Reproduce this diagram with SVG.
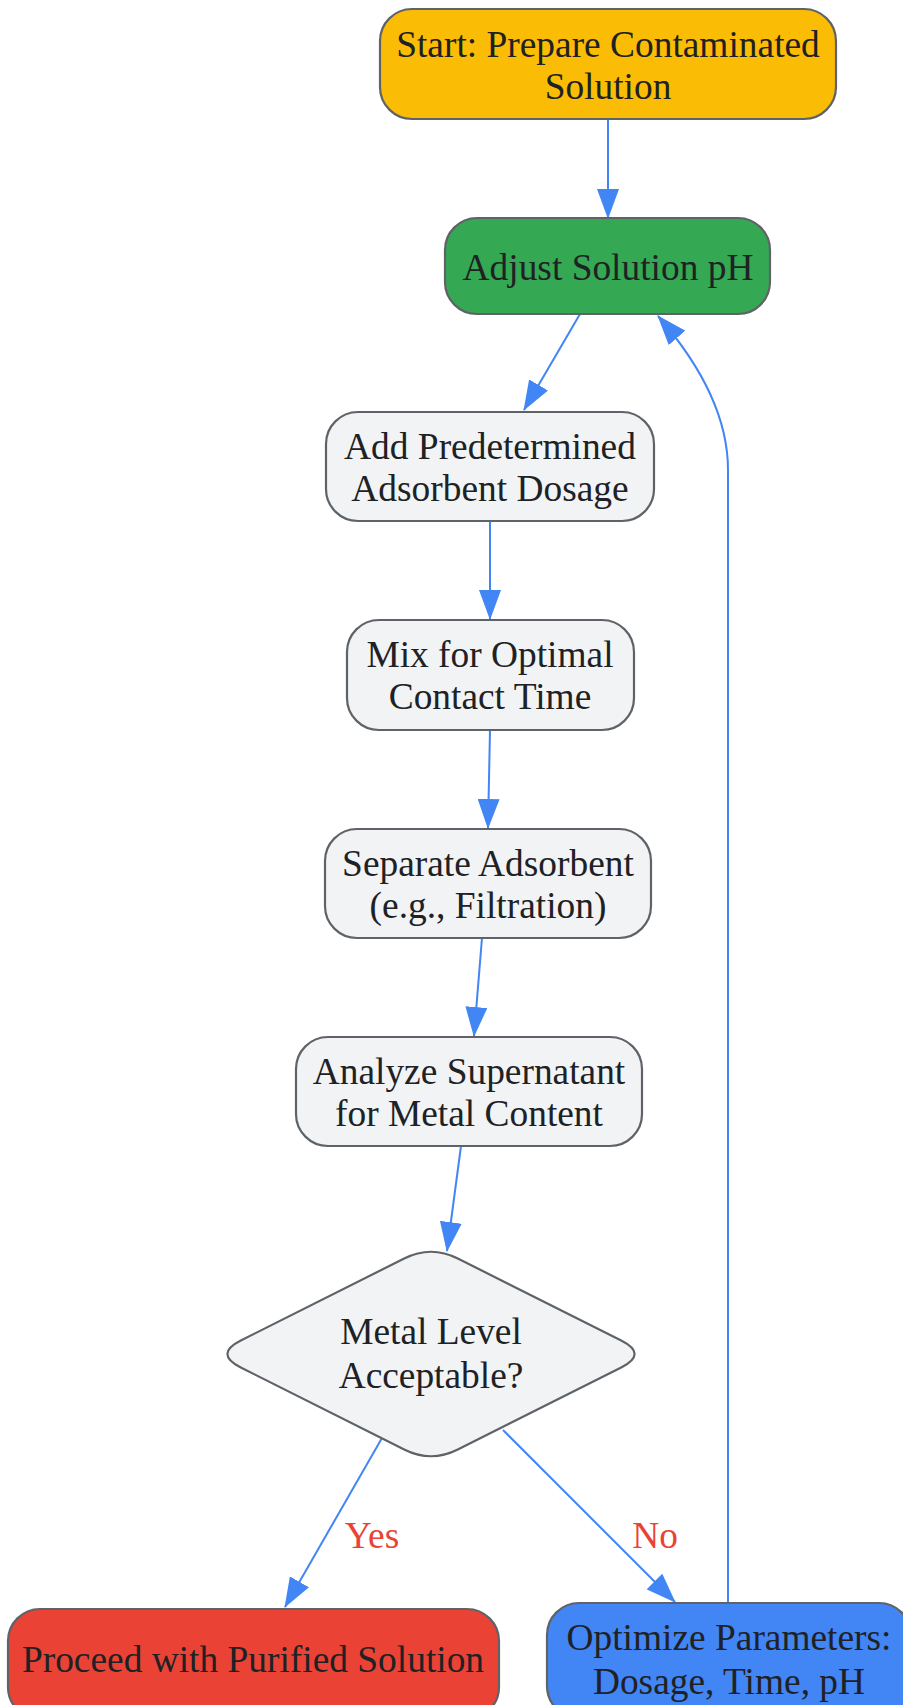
<svg xmlns="http://www.w3.org/2000/svg" width="903" height="1705" viewBox="0 0 903 1705">
<style>
.node rect, .node path { stroke: #5f6368; stroke-width: 2.2; }
.grey { fill: #f1f3f4; }
.lbl { font-family: "Liberation Serif", "Times New Roman", serif; font-size: 37.4px; fill: #202124; text-anchor: middle; }
.elbl { font-family: "Liberation Serif", "Times New Roman", serif; font-size: 37.4px; fill: #ea4335; text-anchor: middle; }
.edge { fill: none; stroke: #4285f4; stroke-width: 2; }
</style>
<defs>
<marker id="arr" viewBox="0 0 30 22" markerWidth="30" markerHeight="22" refX="29" refY="11" orient="auto" markerUnits="userSpaceOnUse">
<path d="M0,0 L30,11 L0,22 Z" fill="#4285f4"/>
</marker>
</defs>
<rect width="903" height="1705" fill="#ffffff"/>
<g id="connectors">
<path class="edge" d="M608,119 L608,218" marker-end="url(#arr)"/>
<path class="edge" d="M580,314 L524,410" marker-end="url(#arr)"/>
<path class="edge" d="M490,521 L490,619" marker-end="url(#arr)"/>
<path class="edge" d="M490,730 L488,828" marker-end="url(#arr)"/>
<path class="edge" d="M482,938 L474,1036" marker-end="url(#arr)"/>
<path class="edge" d="M461,1146 L447,1251" marker-end="url(#arr)"/>
<path class="edge" d="M382,1438 L285,1607" marker-end="url(#arr)"/>
<path class="edge" d="M503,1430 L675,1602" marker-end="url(#arr)"/>
<path class="edge" d="M728,1603 L728,470 C728,420 705,370 658,316" marker-end="url(#arr)"/>
<text class="elbl" x="372" y="1548">Yes</text>
<text class="elbl" x="655" y="1548">No</text>
</g>
<g id="start" class="node">
<rect x="380" y="9" width="456" height="110" rx="32" fill="#fbbc05"/>
<text class="lbl" x="608" y="57">Start: Prepare Contaminated</text>
<text class="lbl" x="608" y="99">Solution</text>
</g>
<g id="adjust" class="node">
<rect x="445" y="218" width="325" height="96" rx="32" fill="#34a853"/>
<text class="lbl" x="608" y="280">Adjust Solution pH</text>
</g>
<g id="add" class="node">
<rect x="326" y="412" width="328" height="109" rx="32" class="grey"/>
<text class="lbl" x="490" y="459">Add Predetermined</text>
<text class="lbl" x="490" y="501">Adsorbent Dosage</text>
</g>
<g id="mix" class="node">
<rect x="347" y="620" width="287" height="110" rx="32" class="grey"/>
<text class="lbl" x="490" y="667">Mix for Optimal</text>
<text class="lbl" x="490" y="709">Contact Time</text>
</g>
<g id="separate" class="node">
<rect x="325" y="829" width="326" height="109" rx="32" class="grey"/>
<text class="lbl" x="488" y="876">Separate Adsorbent</text>
<text class="lbl" x="488" y="918">(e.g., Filtration)</text>
</g>
<g id="analyze" class="node">
<rect x="296" y="1037" width="346" height="109" rx="32" class="grey"/>
<text class="lbl" x="469" y="1084">Analyze Supernatant</text>
<text class="lbl" x="469" y="1126">for Metal Content</text>
</g>
<g id="decision" class="node">
<path d="M457.8,1258.5 L621.2,1340.5 Q648,1354 621.2,1367.5 L457.8,1449.5 Q431,1463 404.2,1449.5 L240.8,1367.5 Q214,1354 240.8,1340.5 L404.2,1258.5 Q431,1245 457.8,1258.5 Z" class="grey"/>
<text class="lbl" x="431" y="1344">Metal Level</text>
<text class="lbl" x="431" y="1388">Acceptable?</text>
</g>
<g id="proceed" class="node">
<rect x="8" y="1609" width="491" height="110" rx="32" fill="#ea4335"/>
<text class="lbl" x="253" y="1672">Proceed with Purified Solution</text>
</g>
<g id="optimize" class="node">
<rect x="547" y="1603" width="364" height="115" rx="32" fill="#4285f4"/>
<text class="lbl" x="729" y="1650">Optimize Parameters:</text>
<text class="lbl" x="729" y="1694">Dosage, Time, pH</text>
</g>
</svg>
